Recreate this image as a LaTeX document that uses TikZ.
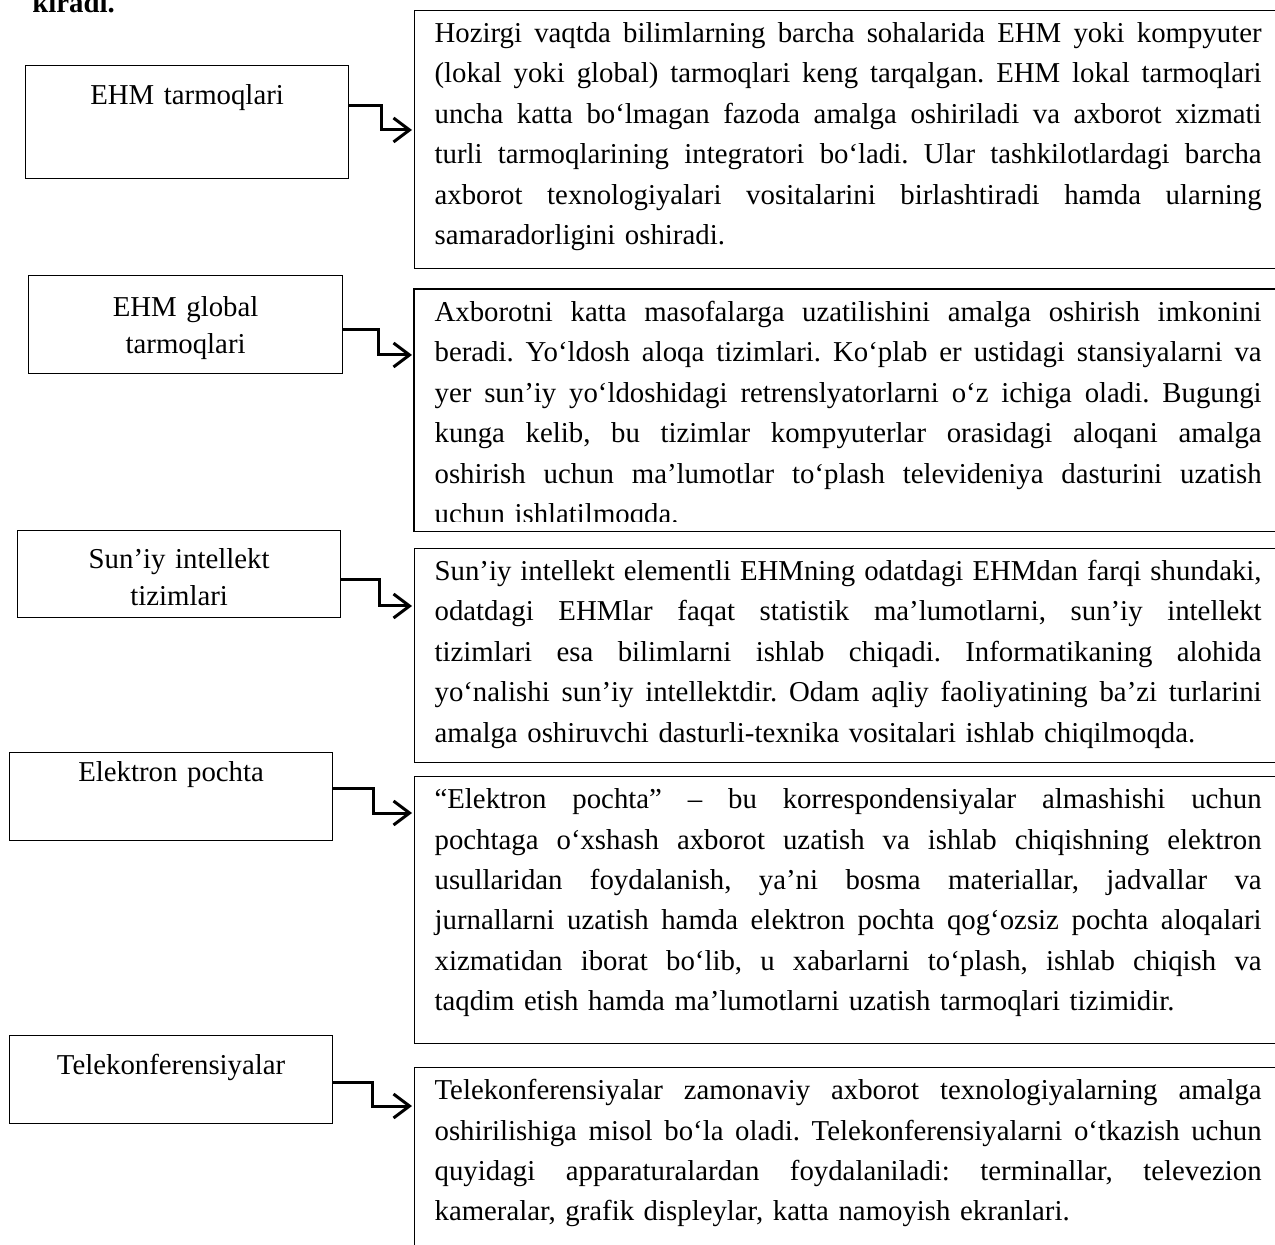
\documentclass[tikz,border=0pt]{standalone}
\usepackage{fontspec}
\setmainfont{Liberation Serif}
\usetikzlibrary{arrows.meta}
\frenchspacing
\newcommand{\fullline}[1]{\leavevmode\hbox to 413.5pt{\spaceskip=0.25em plus 1em minus 0.05em\relax #1}\\}
\begin{document}
\begin{tikzpicture}[x=0.5pt, y=-0.5pt,
  term/.style={draw, line width=0.6pt, inner sep=0pt, align=center, anchor=north west, font=\fontsize{14.4pt}{18.5pt}\selectfont},
  desc/.style={draw, line width=0.6pt, inner xsep=10pt, inner ysep=0pt, text width=413.5pt, text height=16pt, anchor=north west, font=\fontsize{14.4pt}{20.2pt}\selectfont},
  flow/.style={line width=1.5pt, -{Straight Barb[length=8pt, width=12pt]}, shorten >=1pt}]
  \useasboundingbox (0,0) rectangle (1275,1245);
  \clip (0,0) rectangle (1275,1245);

  \node[anchor=base west, inner sep=0pt, font=\fontsize{14.4pt}{17pt}\selectfont\bfseries] (kiradi) at (32,13) {kiradi.};

  % chap ustun
  \node[term, text width=161.5pt, text height=19.5pt, text depth=37pt] (ehm) at (25,65) {EHM tarmoqlari};
  \node[term, text width=157pt, text height=20.5pt, text depth=28.5pt] (global) at (28,275) {EHM global\\ tarmoqlari};
  \node[term, text width=161.5pt, text height=19pt, text depth=24.5pt] (intellekt) at (17,530) {Sun’iy intellekt\\ tizimlari};
  \node[term, text width=161.5pt, text height=14.5pt, text depth=29.5pt] (pochta) at (9,752) {Elektron pochta};
  \node[term, text width=161.5pt, text height=19.5pt, text depth=24.5pt] (telekonf) at (9,1035) {Telekonferensiyalar};

  % o'ng ustun
  \node[desc, text depth=113pt] (ehmtext) at (414,10) {%
    \fullline{Hozirgi vaqtda bilimlarning barcha sohalarida EHM yoki kompyuter}
    \fullline{(lokal yoki global) tarmoqlari keng tarqalgan. EHM lokal tarmoqlari}
    \fullline{uncha katta bo‘lmagan fazoda amalga oshiriladi va axborot xizmati}
    \fullline{turli tarmoqlarining integratori bo‘ladi. Ular tashkilotlardagi barcha}
    \fullline{axborot texnologiyalari vositalarini birlashtiradi hamda ularning}
    samaradorligini oshiradi.};
  \begin{scope}
    \clip (414,289) rectangle (1275,522);
    \node[desc, draw=none, text depth=104.5pt] (globaltext) at (414,289) {%
      \fullline{Axborotni katta masofalarga uzatilishini amalga oshirish imkonini}
      \fullline{beradi. Yo‘ldosh aloqa tizimlari. Ko‘plab er ustidagi stansiyalarni va}
      \fullline{yer sun’iy yo‘ldoshidagi retrenslyatorlarni o‘z ichiga oladi. Bugungi}
      \fullline{kunga kelib, bu tizimlar kompyuterlar orasidagi aloqani amalga}
      \fullline{oshirish uchun ma’lumotlar to‘plash televideniya dasturini uzatish}
      uchun ishlatilmoqda.};
  \end{scope}
  \draw[line width=0.6pt] (globaltext.north west) rectangle (globaltext.south east);
  \node[desc, text depth=91pt] (intellekttext) at (414,548) {%
    \fullline{Sun’iy intellekt elementli EHMning odatdagi EHMdan farqi shundaki,}
    \fullline{odatdagi EHMlar faqat statistik ma’lumotlarni, sun’iy intellekt}
    \fullline{tizimlari esa bilimlarni ishlab chiqadi. Informatikaning alohida}
    \fullline{yo‘nalishi sun’iy intellektdir. Odam aqliy faoliyatining ba’zi turlarini}
    amalga oshiruvchi dasturli-texnika vositalari ishlab chiqilmoqda.};
  \node[desc, text depth=117.5pt] (pochtatext) at (414,776) {%
    \fullline{“Elektron pochta” – bu korrespondensiyalar almashishi uchun}
    \fullline{pochtaga o‘xshash axborot uzatish va ishlab chiqishning elektron}
    \fullline{usullaridan foydalanish, ya’ni bosma materiallar, jadvallar va}
    \fullline{jurnallarni uzatish hamda elektron pochta qog‘ozsiz pochta aloqalari}
    \fullline{xizmatidan iborat bo‘lib, u xabarlarni to‘plash, ishlab chiqish va}
    taqdim etish hamda ma’lumotlarni uzatish tarmoqlari tizimidir.};
  \node[desc, text depth=100pt] (telekonftext) at (414,1067) {%
    \fullline{Telekonferensiyalar zamonaviy axborot texnologiyalarning amalga}
    \fullline{oshirilishiga misol bo‘la oladi. Telekonferensiyalarni o‘tkazish uchun}
    \fullline{quyidagi apparaturalardan foydalaniladi: terminallar, televezion}
    kameralar, grafik displeylar, katta namoyish ekranlari.};

  \draw[flow] (ehm.east |- 0,106) -- ++(32,0) |- (ehmtext.west |- 0,130);
  \draw[flow] (global.east |- 0,330) -- ++(35,0) |- (globaltext.west |- 0,355);
  \draw[flow] (intellekt.east |- 0,580) -- ++(38,0) |- (intellekttext.west |- 0,606);
  \draw[flow] (pochta.east |- 0,788) -- ++(40,0) |- (pochtatext.west |- 0,813);
  \draw[flow] (telekonf.east |- 0,1082) -- ++(39,0) |- (telekonftext.west |- 0,1106);
\end{tikzpicture}
\end{document}
